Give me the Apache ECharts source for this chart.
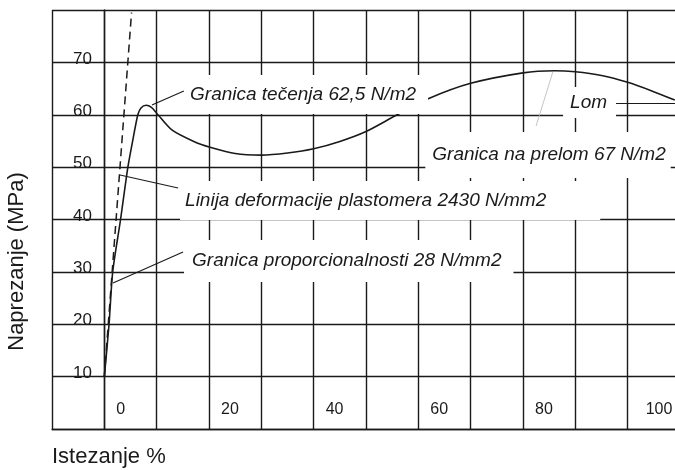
<!DOCTYPE html>
<html>
<head>
<meta charset="utf-8">
<script src="https://cdn.jsdelivr.net/npm/echarts@6/dist/echarts.min.js"></script>
<style>html,body{margin:0;padding:0;background:#fff}#c{width:675px;height:470px}</style>
</head>
<body>
<div id="c"></div>
<script>
// ---- data ----
const strainPct = [0, 0.9, 1.6, 3.1, 4.5, 5.6, 6.4, 7.0, 8.0, 9.0, 10, 12.9, 17.3, 20.2, 25, 30, 35, 40, 45, 50, 55.6, 62, 70, 80, 86, 90, 95, 100, 104.5, 109];
const stressMPa = [10, 20, 30, 40, 50, 56, 60, 61.3, 61.8, 61.4, 60.3, 57.1, 54.8, 53.8, 52.6, 52.3, 52.7, 53.5, 54.9, 56.8, 59.8, 63.1, 66.0, 68.0, 68.4, 68.2, 67.5, 66.2, 64.6, 62.8];
const elasticStrain = [0, 5.2];
const elasticStress = [10, 79.5];
const xTickLabels = [0, 20, 40, 60, 80, 100];
const yTickLabels = [10, 20, 30, 40, 50, 60, 70];
const noteTexts = ['Granica tečenja 62,5 N/m2', 'Linija deformacije plastomera 2430 N/mm2', 'Granica proporcionalnosti 28 N/mm2', 'Granica na prelom 67 N/m2', 'Lom'];
const noteX = [15.42, 14.47, 15.23, 61.34, 87.66];
const noteY = [63.87, 43.63, 32.08, 52.32, 62.34];
const leaderFromX = [9.1, 3.0, 1.66, 85.7, 97.6];
const leaderFromY = [61.86, 48.5, 27.88, 68.16, 62.24];
const leaderToX = [15.2, 14.1, 15.04, 82.5, 110];
const leaderToY = [64.53, 46.0, 33.8, 57.85, 62.24];

// ---- styling ----
const FONT = '"Liberation Sans", Arial, sans-serif';
const INK = '#1a1a1a';
const notePadding = [[8.5, 12, 8.5, 5], [8.5, 54, 8.5, 5], [11, 12, 9, 8], [17, 5, 7, 7], [5, 9, 4, 7]];
const leaderColors = [INK, INK, INK, '#b5b5b5', INK];
const leaderWidths = [1.1, 1.1, 1.1, 0.8, 1.1];

const chart = echarts.init(document.getElementById('c'), null, {renderer: 'canvas'});
const gridLine = {show: true, lineStyle: {color: INK, width: 1.4}};

chart.setOption({
  animation: false,
  backgroundColor: '#fff',
  title: {
    text: 'Istezanje %', left: 52, top: 446, padding: 0,
    textStyle: {fontFamily: FONT, fontSize: 22, fontWeight: 'normal', color: INK}
  },
  grid: {left: 52, top: 10, width: 628, height: 419, show: false, containLabel: false, outerBoundsMode: 'none'},
  xAxis: {
    type: 'value', min: -10, max: 110, interval: 10,
    axisLine: {show: true, lineStyle: {color: INK, width: 1.4}},
    axisTick: {show: false},
    splitLine: gridLine,
    axisLabel: {
      inside: true, margin: 19, align: 'left', verticalAlign: 'middle',
      fontFamily: FONT, fontSize: 16, color: INK,
      formatter: v => xTickLabels.indexOf(v) >= 0 ? (v === 100 ? '{b|' + v + '}' : '{a|' + v + '}') : '',
      rich: {
        a: {padding: [0, 0, 0, 12], fontFamily: FONT, fontSize: 16, color: INK},
        b: {padding: [0, 0, 0, 18], fontFamily: FONT, fontSize: 16, color: INK}
      }
    }
  },
  yAxis: {
    type: 'value', min: 0, max: 80, interval: 10,
    name: 'Naprezanje (MPa)', nameLocation: 'middle', nameRotate: 90, nameGap: 24,
    nameTextStyle: {fontFamily: FONT, fontSize: 22, color: INK, padding: [0, 84, 0, 0]},
    axisLine: {show: true, lineStyle: {color: INK, width: 1.4}},
    axisTick: {show: false},
    splitLine: gridLine,
    axisLabel: {
      inside: true, margin: 21, align: 'left', verticalAlign: 'bottom', lineHeight: 7,
      fontFamily: FONT, fontSize: 17, color: INK,
      formatter: v => yTickLabels.indexOf(v) >= 0 ? String(v) : ''
    }
  },
  series: [
    {
      name: 'curve', type: 'line', smooth: 0.25, symbol: 'none', silent: true, z: 3, clip: true,
      lineStyle: {color: INK, width: 1.6},
      data: strainPct.map((x, i) => [x, stressMPa[i]]),
      markLine: {
        silent: true, symbol: ['none', 'none'], label: {show: false}, z: 4,
        data: leaderFromX.map((x, i) => [
          {coord: [x, leaderFromY[i]], lineStyle: {color: leaderColors[i], width: leaderWidths[i], type: 'solid'}},
          {coord: [leaderToX[i], leaderToY[i]]}
        ])
      },
      markPoint: {
        silent: true, symbol: 'rect', symbolSize: 0, z: 6,
        data: noteTexts.map((t, i) => ({
          coord: [noteX[i], noteY[i]], value: t,
          label: {
            show: true, position: 'right', distance: 0, formatter: t,
            fontFamily: FONT, fontStyle: 'italic', fontSize: 19, lineHeight: 22, color: INK,
            backgroundColor: '#fff', padding: notePadding[i]
          }
        }))
      }
    },
    {
      name: 'elastic', type: 'line', symbol: 'none', silent: true, z: 3,
      lineStyle: {color: INK, width: 1.5, type: [8, 5]},
      data: elasticStrain.map((x, i) => [x, elasticStress[i]])
    }
  ]
});
</script>
</body>
</html>
